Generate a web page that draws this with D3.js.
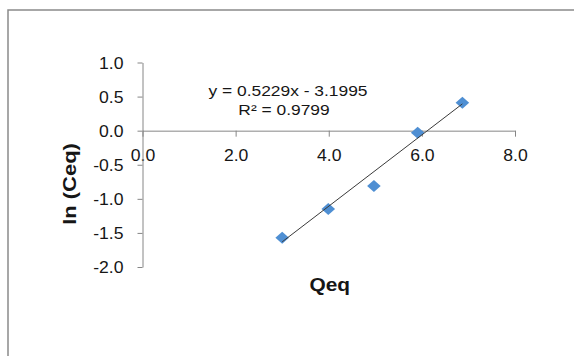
<!DOCTYPE html>
<html>
<head>
<meta charset="utf-8">
<script src="https://cdn.jsdelivr.net/npm/d3@7"></script>
<style>
  html, body { margin: 0; padding: 0; background: #fff; }
  svg { display: block; font-family: "Liberation Sans", Arial, sans-serif; }
</style>
</head>
<body>
<svg id="chart" width="574" height="356"></svg>
<script>
// Sorption data: equilibrium loading vs. log of equilibrium concentration
const qeq   = [3.00, 3.99, 4.97, 5.91, 6.87];
const lnCeq = [-1.57, -1.15, -0.81, -0.03, 0.41];

// Linear trendline fitted to the points
const slope = 0.5229;
const intercept = -3.1995;
const rSquared = 0.9799;

// Axis ticks
const xTicks = [0, 2, 4, 6, 8];
const yTicks = [-2.0, -1.5, -1.0, -0.5, 0.0, 0.5, 1.0];

const svg = d3.select("#chart");
const axisColor = "#868686";
const textColor = "#161616";
const markerColor = "#4f8fd3";

// Chart area frame
svg.append("rect")
  .attr("x", 8).attr("y", 10)
  .attr("width", 640).attr("height", 420)
  .attr("fill", "none")
  .attr("stroke", "#8a8a8a")
  .attr("stroke-width", 1.5);

const x = d3.scaleLinear().domain([0, 8]).range([142.5, 515]);
const y = d3.scaleLinear().domain([-2, 1]).range([267, 62.5]);

const fmt = d => d.toFixed(1);

// Horizontal stretch applied to the labels
const kTick = 1.1, kEq = 1.16, kX = 1.16, kY = 1.22;

// X axis crosses at y = 0
const gx = svg.append("g")
  .attr("transform", `translate(0,${y(0)})`)
  .call(d3.axisBottom(x).tickValues(xTicks).tickFormat(fmt).tickSize(6).tickSizeOuter(0));

// Y axis crosses at x = 0
const gy = svg.append("g")
  .attr("transform", `translate(${x(0)},0)`)
  .call(d3.axisLeft(y).tickValues(yTicks).tickFormat(fmt).tickSize(5).tickSizeOuter(0));

[gx, gy].forEach(g => {
  g.select(".domain").attr("stroke", axisColor).attr("stroke-width", 1);
  g.selectAll(".tick line").attr("stroke", axisColor).attr("stroke-width", 1);
  g.selectAll(".tick text")
    .attr("fill", textColor)
    .style("font-size", "16px")
    .style("font-family", "'Liberation Sans', Arial, sans-serif");
});

gx.selectAll(".tick text")
  .attr("y", 30.5).attr("dy", 0)
  .attr("text-anchor", "middle")
  .attr("transform", `scale(${kTick},1)`);

gy.selectAll(".tick text")
  .attr("x", -19 / kTick).attr("dy", "0.36em")
  .attr("text-anchor", "end")
  .attr("transform", `scale(${kTick},1)`);

// Data markers (diamonds)
const mw = 6.8, mh = 6.0;
const diamond = `M0,${-mh}L${mw},0L0,${mh}L${-mw},0Z`;
svg.append("g").selectAll("path")
  .data(qeq.map((q, i) => [q, lnCeq[i]]))
  .join("path")
  .attr("d", diamond)
  .attr("transform", d => `translate(${x(d[0])},${y(d[1])})`)
  .attr("fill", markerColor);

// Trendline across the data range
const xMin = d3.min(qeq), xMax = d3.max(qeq);
svg.append("line")
  .attr("x1", x(xMin)).attr("y1", y(slope * xMin + intercept))
  .attr("x2", x(xMax)).attr("y2", y(slope * xMax + intercept))
  .attr("stroke", "#3a3a3a")
  .attr("stroke-width", 1);

// Trendline equation and R²
const eq = `y = ${slope.toFixed(4)}x - ${Math.abs(intercept).toFixed(4)}`;
const rs = `R² = ${rSquared.toFixed(4)}`;
svg.append("text")
  .attr("transform", `translate(288,95.7) scale(${kEq},1)`)
  .attr("text-anchor", "middle")
  .attr("fill", textColor)
  .style("font-size", "15px")
  .text(eq);
svg.append("text")
  .attr("transform", `translate(284,114.5) scale(${kEq},1)`)
  .attr("text-anchor", "middle")
  .attr("fill", textColor)
  .style("font-size", "15px")
  .text(rs);

// Axis titles
svg.append("text")
  .attr("transform", `translate(329.7,291) scale(${kX},1)`)
  .attr("text-anchor", "middle")
  .attr("fill", textColor)
  .style("font-size", "18px")
  .style("font-weight", "bold")
  .text("Qeq");

svg.append("text")
  .attr("transform", `translate(76,184) rotate(-90) scale(${kY},1)`)
  .attr("text-anchor", "middle")
  .attr("fill", textColor)
  .style("font-size", "18px")
  .style("font-weight", "bold")
  .text("ln (Ceq)");
</script>
</body>
</html>
